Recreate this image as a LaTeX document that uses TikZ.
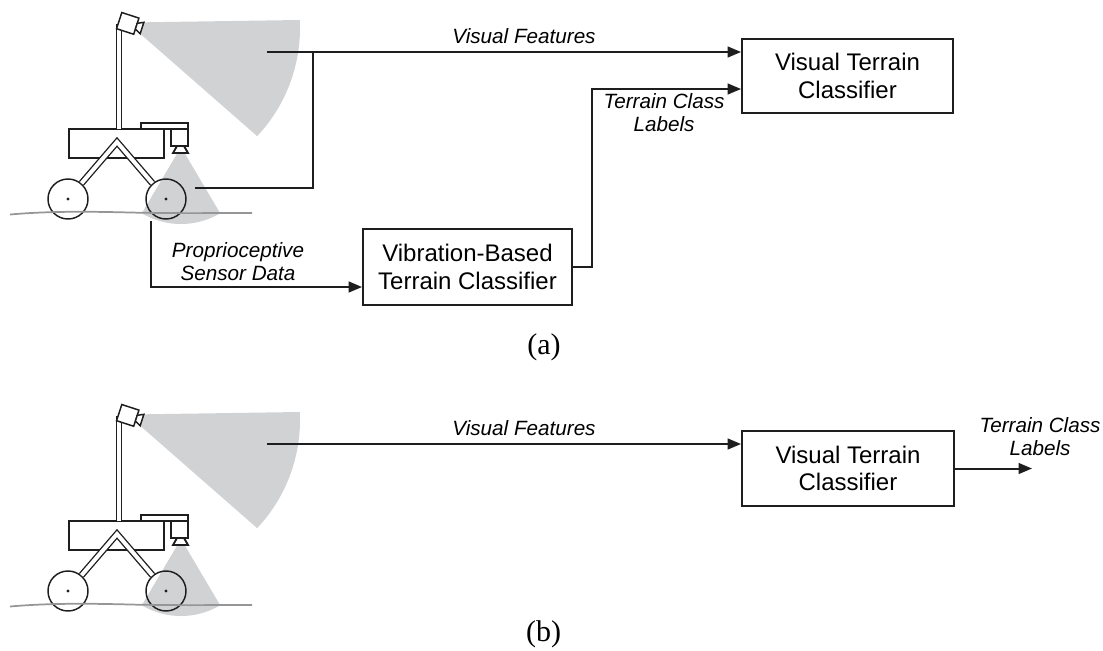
\documentclass[tikz,border=0pt]{standalone}
\usepackage{fontspec}
\setmainfont{Liberation Sans}
\newfontfamily\capfont{Liberation Serif}
\usetikzlibrary{arrows.meta,calc}
\definecolor{fov}{RGB}{209,210,212}
\definecolor{groundc}{RGB}{150,150,150}
\definecolor{ink}{RGB}{30,30,30}

\tikzset{
  robot/.style={draw=ink, line width=1.1pt},
  bar/.style={draw=ink, line width=1pt, double=white, double distance=3pt, line join=miter},
  conn/.style={draw=ink, line width=1.5pt},
  arr/.style={conn, -{Triangle[length=10pt,width=8pt]}},
  classbox/.style={draw=ink, line width=1.4pt, inner sep=0pt, align=center,
    font=\fontsize{18}{20.5}\selectfont},
  lbl/.style={inner sep=0pt, align=center, font=\itshape\fontsize{15.5}{17.25}\selectfont},
  caption/.style={inner sep=0pt, font=\capfont\fontsize{22.5}{26}\selectfont},
  wheel/.style={robot, circle, minimum size=30pt, inner sep=0pt},
  % the rover with its two cameras and their fields of view
  rover/.pic={
    % fields of view
    \fill[fov] (143.9,22.3) -- (299.8,20) arc[start angle=-2.9, end angle=43.2, radius=158]
      -- (140.2,33.75) -- cycle;
    \fill[fov] (181,147) -- (141.8,213.3) arc[start angle=120.6, end angle=59.4, radius=77] -- cycle;
    % wheels
    \node[wheel] (-wl) at (68,199) {};
    \node[wheel] (-wr) at (166,199) {};
    \fill[ink] (-wl.center) circle[radius=1.7];
    \fill[ink] (-wr.center) circle[radius=1.7];
    % ground
    \draw[groundc, line width=1.3pt] (10,214.5) .. controls (50,211) and (90,211.5) .. (130,212.5)
      .. controls (170,213.5) and (210,213) .. (252,213);
    % body
    \draw[robot, fill=white] (69,129) rectangle (164,158);
    % legs
    \coordinate (-apex) at (117,142);
    \draw[bar] (-wl) -- (-apex) -- (-wr);
    % mast
    \draw[bar] (119,129) -- (119,24);
    % downward camera
    \draw[robot, fill=white] (141,123) rectangle (188,129);
    \draw[robot, fill=white] (171,129) rectangle (188,146);
    \draw[robot, line width=1.4pt, fill=white] (177,146) -- (184,146) -- (188,153) -- (173,153) -- cycle;
    % mast camera
    \begin{scope}[shift={(127.75,23.4)}, rotate=-18]
      \draw[robot, fill=white] (-9,-8.5) rectangle (9,8.5);
      \draw[robot, fill=white] (9,-3) -- (15,-6) -- (15,6) -- (9,3) -- cycle;
    \end{scope}
    % outputs
    \coordinate (-fovout) at (267,52);
    \coordinate (-lowout) at (195,188);
    \coordinate (-propout) at (151,221);
  }
}

\begin{document}
\begin{tikzpicture}[x=0.75pt, y=-0.75pt]
\useasboundingbox (0,0) rectangle (1103,650);

% ---------- (a) training ----------
\pic (ra) at (0,0) {rover};

\node[classbox, minimum width=158.25pt, minimum height=55.5pt] (vtcA) at (847.5,76)
  {Visual Terrain\\Classifier};
\node[classbox, minimum width=156.75pt, minimum height=57pt] (vbc) at (467.5,267)
  {Vibration-Based\\Terrain Classifier};

\coordinate (jA) at (313,52);
\coordinate (tcTurn) at (592,89);
\coordinate (vbcIn) at ([yshift=-15pt]vbc.west);

\draw[arr] (ra-fovout) -- (ra-fovout -| vtcA.west);
\draw[conn] (ra-lowout) -| (jA);
\draw[arr] (ra-propout) |- (vbcIn);
\draw[arr] (vbc.east) -| (tcTurn) -- (tcTurn -| vtcA.west);

\node[lbl, anchor=base] (vfA) at (524,43) {Visual Features};
\node[lbl, anchor=north] (propA) at (238,242) {Proprioceptive\\Sensor Data};
\node[lbl, anchor=north] (tcA) at (664,93) {Terrain Class\\Labels};

\node[caption] (capA) at (544,347.5) {(a)};

% ---------- (b) deployment ----------
\pic (rb) at (0,392) {rover};

\node[classbox, minimum width=159pt, minimum height=56.25pt] (vtcB) at (848,468.5)
  {Visual Terrain\\Classifier};
\coordinate (outB) at (1032,468.5);

\draw[arr] (rb-fovout) -- (rb-fovout -| vtcB.west);
\draw[arr] (vtcB.east) -- (outB);

\node[lbl, anchor=base] (vfB) at (524,435) {Visual Features};
\node[lbl, anchor=north] (tcB) at (1040,417) {Terrain Class\\Labels};

\node[caption] (capB) at (543.5,634) {(b)};
\end{tikzpicture}
\end{document}
